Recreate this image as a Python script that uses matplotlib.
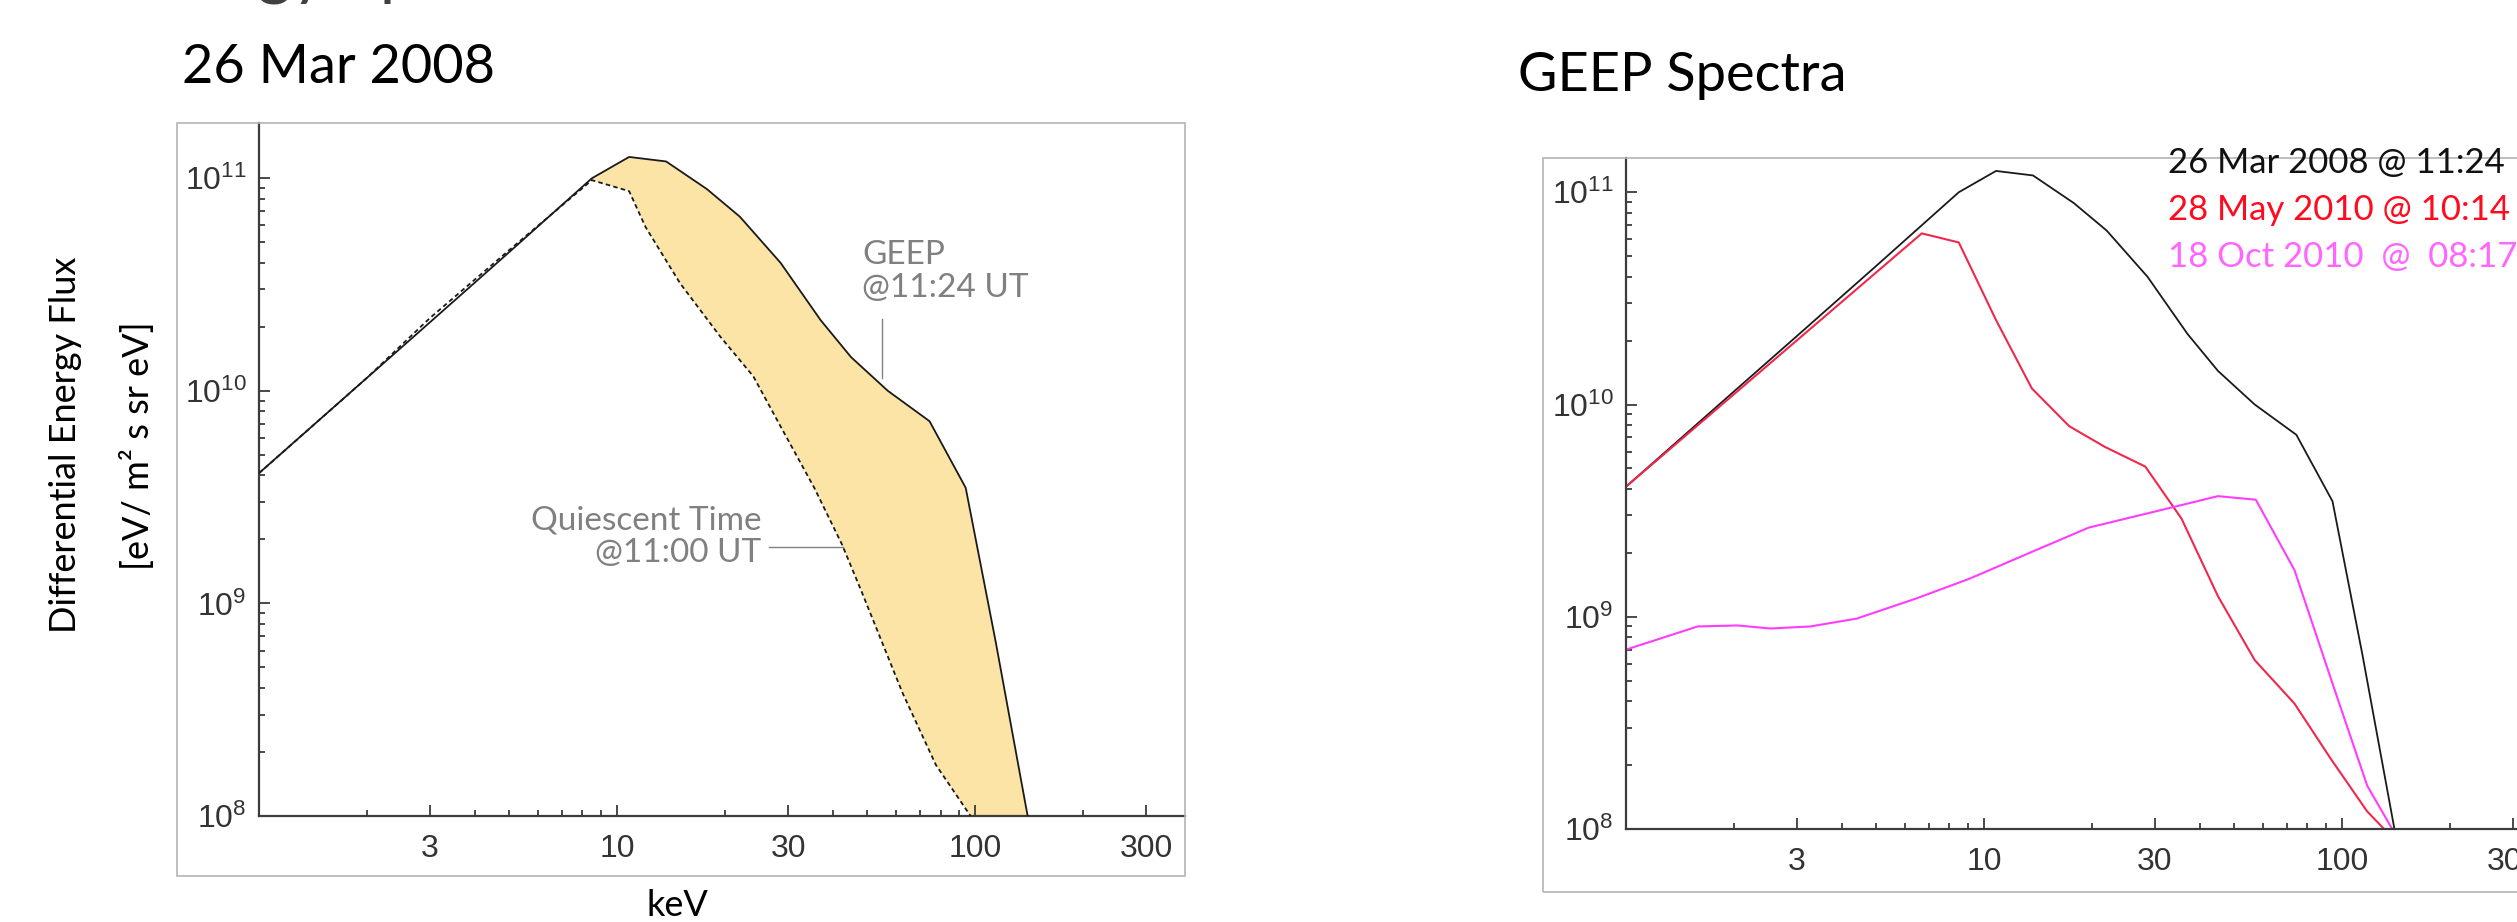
"""
    GEEP energy spectra, two panels
"""

import matplotlib.pyplot as plt
from matplotlib.patches import Rectangle
from matplotlib.ticker import FixedLocator, LogLocator, NullFormatter

plt.rcParams["font.family"] = ["Liberation Sans", "DejaVu Sans"]
plt.rcParams["mathtext.default"] = "regular"

# 26 Mar 2008, GEEP @11:24 UT (solid)
geep_kev = [1, 2, 3, 5, 8.5, 10.8, 13.7, 17.8, 22, 28.6, 37, 45, 57, 74.5, 94, 114, 140]
geep_flux = [4.1e9, 1.15e10, 2.1e10, 4.5e10, 1.0e11, 1.26e11, 1.2e11, 8.9e10, 6.6e10,
             4.0e10, 2.15e10, 1.44e10, 1.0e10, 7.2e9, 3.5e9, 6.6e8, 1.0e8]

# 26 Mar 2008, quiescent time @11:00 UT (dashed)
quiet_kev = [1, 2, 3, 5, 8.5, 10.8, 12, 15, 19.4, 24, 28.6, 35.5, 42.4, 48, 62.6, 77.6, 97]
quiet_flux = [4.1e9, 1.15e10, 2.2e10, 4.6e10, 9.8e10, 8.7e10, 5.9e10, 3.2e10, 1.8e10,
              1.17e10, 6.8e9, 3.5e9, 1.9e9, 1.15e9, 3.8e8, 1.74e8, 1.0e8]

# 28 May 2010 @ 10:14
may_kev = [1, 6.7, 8.5, 10.8, 13.6, 17.3, 21.8, 28.2, 35.6, 45, 57, 73.6, 93, 117.5, 131]
may_flux = [4.1e9, 6.4e10, 5.8e10, 2.5e10, 1.19e10, 7.9e9, 6.3e9, 5.1e9, 2.9e9, 1.25e9,
            6.25e8, 3.9e8, 2.14e8, 1.21e8, 1.0e8]

# 18 Oct 2010 @ 08:17
oct_kev = [1, 1.585, 2.05, 2.53, 3.27, 4.41, 6.47, 9.1, 13.4, 19.6, 30, 45, 57.4, 73.6, 95, 117.5, 138]
oct_flux = [7.0e8, 9.0e8, 9.1e8, 8.8e8, 9.0e8, 9.8e8, 1.22e9, 1.51e9, 2.0e9, 2.63e9, 3.13e9,
            3.7e9, 3.56e9, 1.66e9, 4.6e8, 1.6e8, 1.0e8]

xticks = [3, 10, 30, 100, 300]
xtick_labels = ["3", "10", "30", "100", "300"]
legend_labels = ["26 Mar 2008 @ 11:24", "28 May 2010 @ 10:14", "18 Oct 2010  @  08:17"]

W, H = 2517, 922
AX_COL = "#3c3c3c"
NOTE_COL = "#808080"
SLIDE_FONT = "Lato"


def px_box(left, top, right, bottom):
    """pixel box -> figure fraction [l, b, w, h]"""
    return [left / W, (H - bottom) / H, (right - left) / W, (bottom - top) / H]


def style_axes(ax, xmax, ymax):
    ax.set_xscale("log")
    ax.set_yscale("log")
    ax.set_xlim(1, xmax)
    ax.set_ylim(1e8, ymax)
    for side in ["top", "right"]:
        ax.spines[side].set_visible(False)
    for side in ["left", "bottom"]:
        ax.spines[side].set_color(AX_COL)
        ax.spines[side].set_linewidth(1.6)
    ax.xaxis.set_major_locator(FixedLocator(xticks))
    ax.set_xticklabels(xtick_labels)
    ax.xaxis.set_minor_locator(LogLocator(base=10, subs=range(2, 10)))
    ax.xaxis.set_minor_formatter(NullFormatter())
    ax.yaxis.set_major_locator(LogLocator(base=10, numticks=10))
    ax.yaxis.set_minor_locator(LogLocator(base=10, subs=range(2, 10), numticks=10))
    ax.yaxis.set_minor_formatter(NullFormatter())
    ax.tick_params(which="both", direction="in", color=AX_COL, width=1.3,
                   labelsize=23, labelcolor="#333333")
    ax.tick_params(which="major", length=8)
    ax.tick_params(which="minor", length=4)
    ax.tick_params(axis="x", pad=13)
    ax.tick_params(axis="y", pad=9)
    ax.patch.set_alpha(0)


fig = plt.figure(figsize=(W / 100, H / 100), dpi=100)

# picture frames
fig.add_artist(Rectangle((177 / W, (H - 876) / H), 1008 / W, 753 / H, transform=fig.transFigure,
                         fill=False, ec="#b4b4b4", lw=1.2))
fig.add_artist(Rectangle((1543 / W, (H - 892) / H), 1100 / W, 734 / H, transform=fig.transFigure,
                         fill=False, ec="#b4b4b4", lw=1.2))

# ---- left panel
ax1 = fig.add_axes(px_box(259, 123, 1185, 816))
style_axes(ax1, 385, 1.82e11)

# shaded area between quiescent and GEEP spectra
upper = [(k, f) for k, f in zip(geep_kev, geep_flux) if k >= 8.5]
lower = [(k, f) for k, f in zip(quiet_kev, quiet_flux) if k >= 8.5]
poly = upper + lower[::-1]
ax1.fill([p[0] for p in poly], [p[1] for p in poly], color="#fce3a6", lw=0, zorder=1)

ax1.plot(geep_kev, geep_flux, color="#1a1a1a", lw=1.3, zorder=3)
ax1.plot(quiet_kev, quiet_flux, color="#1a1a1a", lw=1.3, ls=(0, (2.5, 1.8)), zorder=3)

ax1.text(48.4, 5.1e10, "GEEP\n@11:24 UT", ha="left", va="top", fontsize=24,
         color=NOTE_COL, family=SLIDE_FONT, linespacing=1.1)
ax1.plot([55, 55], [2.17e10, 1.15e10], color=NOTE_COL, lw=1)
ax1.text(25.3, 2.9e9, "Quiescent Time\n@11:00 UT", ha="right", va="top", fontsize=24,
         color=NOTE_COL, family=SLIDE_FONT, linespacing=1.1, multialignment="right")
ax1.plot([26.5, 42.6], [1.84e9, 1.84e9], color=NOTE_COL, lw=1)

# ---- right panel
ax2 = fig.add_axes(px_box(1626, 158, 2560, 829))
style_axes(ax2, 406, 1.45e11)
ax2.plot(geep_kev, geep_flux, color="#1a1a1a", lw=1.3)
ax2.plot(may_kev, may_flux, color="#f0284c", lw=1.5)
ax2.plot(oct_kev, oct_flux, color="#ff3cff", lw=1.5)

for i, (lab, col) in enumerate(zip(legend_labels, ["#111111", "#ff0a1e", "#ff66ff"])):
    fig.text(2168 / W, (H - 173 - 47 * i) / H, lab, color=col, fontsize=25,
             family=SLIDE_FONT, ha="left", va="baseline")

# ---- slide texts
fig.text(122 / W, 1 + 7 / H, "Energy Spectra", fontsize=48, color="#404040",
         family=SLIDE_FONT, ha="left", va="baseline")
fig.text(182 / W, (H - 83) / H, "26 Mar 2008", fontsize=39, family=SLIDE_FONT,
         ha="left", va="baseline")
fig.text(1518 / W, (H - 91) / H, "GEEP Spectra", fontsize=39, family=SLIDE_FONT,
         ha="left", va="baseline")
fig.text(66 / W, (H - 445) / H, "Differential Energy Flux", rotation=90, fontsize=26,
         family=SLIDE_FONT, ha="center", va="center")
fig.text(137 / W, (H - 446) / H, "[eV/ m² s sr eV]", rotation=90, fontsize=26,
         family=SLIDE_FONT, ha="center", va="center")
fig.text(677 / W, (H - 905) / H, "keV", fontsize=26, family=SLIDE_FONT,
         ha="center", va="center")
fig.text(2159 / W, (H - 945) / H, "keV", fontsize=26, family=SLIDE_FONT,
         ha="center", va="center")

plt.savefig("out.png", dpi=100)
